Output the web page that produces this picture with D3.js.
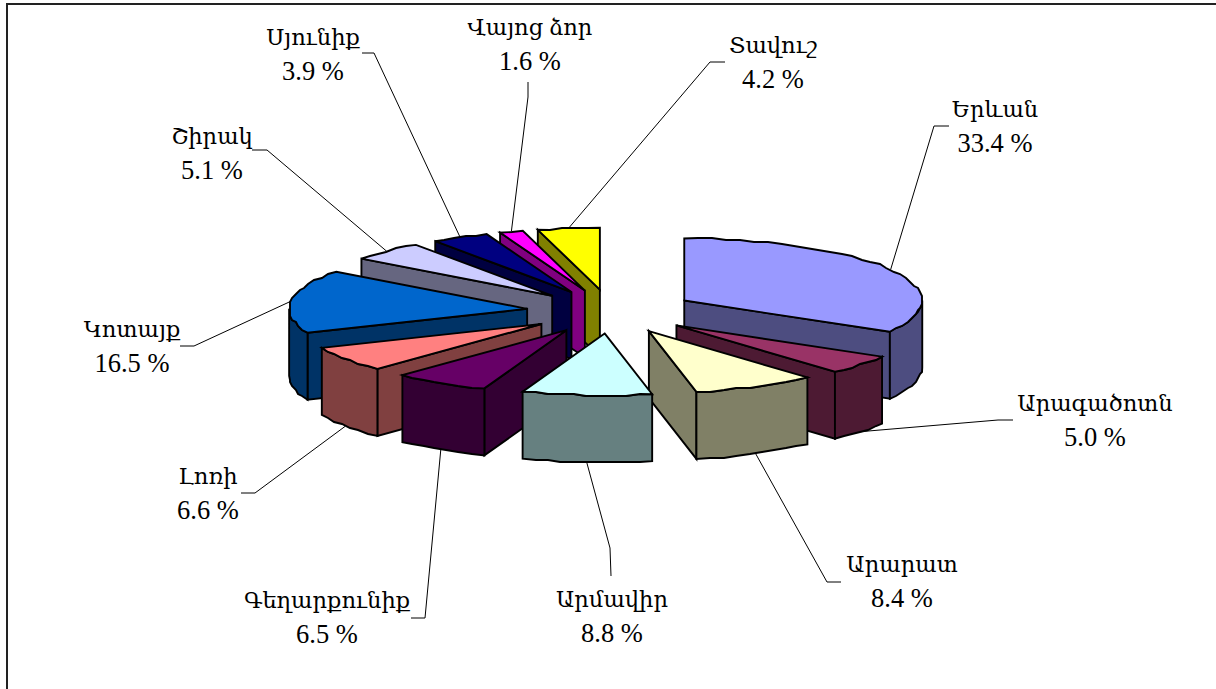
<!DOCTYPE html>
<html>
<head>
<meta charset="utf-8">
<script src="https://cdnjs.cloudflare.com/ajax/libs/d3/7.8.5/d3.min.js"></script>
<style>
  html, body { margin: 0; padding: 0; background: #fff; overflow: hidden; }
  svg { display: block; }
  text { font-family: "Liberation Serif", "DejaVu Serif", serif; fill: #000; text-anchor: middle; }
</style>
</head>
<body>
<svg class="pie" width="1216" height="689"></svg>
<script>
var regions = ["Երևան", "Արագածոտն", "Արարատ", "Արմավիր", "Գեղարքունիք", "Լոռի", "Կոտայք", "Շիրակ", "Սյունիք", "Վայոց ձոր", "Տավուշ"];
var shares = [33.4, 5.0, 8.4, 8.8, 6.5, 6.6, 16.5, 5.1, 3.9, 1.6, 4.2];
var topColors = ["#9999ff", "#993366", "#ffffcc", "#ccffff", "#660066", "#ff8080", "#0066cc", "#ccccff", "#000080", "#ff00ff", "#ffff00"];
var sideColors = ["#4d4d80", "#4d1a33", "#808066", "#668080", "#330033", "#804040", "#003366", "#666680", "#000040", "#800080", "#808000"];

// slices are painted back to front, indexes into the arrays above
var paintOrder = [0, 10, 9, 8, 7, 6, 5, 4, 1, 2, 3];

// hand placed labels like the original: text centre, first baseline, leader elbow and leader tail
var labelX = [995, 1095, 902, 612, 327, 208, 132, 212, 313, 530, 773];
var labelY = [117, 411, 572, 607, 608, 484, 337, 143.5, 45, 35, 53];
var elbowX = [934, 998, 827, 610, 425, 255, 194, 267, 374, 528, 710];
var elbowY = [126, 420, 582, 548, 618, 493, 346, 150, 53, 97, 62];
var tailX = [949, 1013, 841, 611, 411, 241, 180, 252, 362, 528, 725];
var tailY = [126, 420, 582, 576, 618, 493, 346, 150, 53, 82, 62];

var cx = 611, cy = 311.5, rx = 238, ry = 62, depth = 67, explode = 0.355;

var x = d3.scaleLinear().domain([-1, 1]).range([cx - rx, cx + rx]);
var y = d3.scaleLinear().domain([-1, 1]).range([cy - ry, cy + ry]);

var slices = d3.pie().sort(null).startAngle(0).endAngle(2 * Math.PI)(shares);

var line = d3.line();

var svg = d3.select(".pie");

// the frame is cut off on the right and at the bottom
svg.append("path")
    .attr("d", line([[7, 689], [7, 4], [1216, 4]]))
    .attr("fill", "none").attr("stroke", "#222").attr("stroke-width", 2);

// position on the ellipse of a slice, z pushes it down to the bottom rim
function rim(a, shift, k, z) {
  return [x(shift[0] + k * Math.sin(a)), y(shift[1] - k * Math.cos(a)) + (z || 0)];
}

// arcs are short polylines snapped to a grid, that gives the rough edge of the original
function arcPts(a0, a1, shift, z) {
  var pts = [], n = Math.max(2, Math.ceil((a1 - a0) / 0.06));
  for (var i = 0; i <= n; i++) {
    var p = rim(a0 + (a1 - a0) * i / n, shift, 1, z);
    if (i > 0 && i < n) p = [Math.round(p[0] / 2) * 2, Math.round(p[1] / 2) * 2];
    pts.push(p);
  }
  return pts;
}

function shiftOf(d) {
  var mid = (d.startAngle + d.endAngle) / 2;
  return [explode * Math.sin(mid), -explode * Math.cos(mid)];
}

var leaders = svg.append("g");
var pieces = svg.append("g");

paintOrder.forEach(function(i) {
  var d = slices[i], s = shiftOf(d), a0 = d.startAngle, a1 = d.endAngle;
  var g = pieces.append("g");
  var apex = rim(0, s, 0);

  function wall(pts) {
    g.append("path")
      .attr("d", line(pts) + "Z")
      .attr("fill", sideColors[i])
      .attr("stroke", "#000")
      .attr("stroke-width", 1.9)
      .attr("stroke-linejoin", "miter");
  }

  // only the walls that face the viewer
  if (Math.sin(a0) < 0) {
    var e0 = rim(a0, s, 1);
    wall([apex, e0, [e0[0], e0[1] + depth], [apex[0], apex[1] + depth]]);
  }
  if (Math.sin(a1) > 0) {
    var e1 = rim(a1, s, 1);
    wall([apex, e1, [e1[0], e1[1] + depth], [apex[0], apex[1] + depth]]);
  }
  var f0 = Math.max(a0, Math.PI / 2), f1 = Math.min(a1, 3 * Math.PI / 2);
  if (f1 > f0) {
    wall(arcPts(f0, f1, s, 0).concat(arcPts(f0, f1, s, depth).reverse()));
  }

  g.append("path")
    .attr("d", line([apex].concat(arcPts(a0, a1, s, 0))) + "Z")
    .attr("fill", topColors[i])
    .attr("stroke", "#000")
    .attr("stroke-width", 1.9)
    .attr("stroke-linejoin", "miter");
});

slices.forEach(function(d, i) {
  var mid = (d.startAngle + d.endAngle) / 2;
  var front = Math.cos(mid) < 0 && Math.sin(mid) > -0.95;
  var p = rim(mid, shiftOf(d), 1, front ? depth : 0);
  leaders.append("path")
    .attr("d", line([p, [elbowX[i], elbowY[i]], [tailX[i], tailY[i]]]))
    .attr("fill", "none")
    .attr("stroke", "#000")
    .attr("stroke-width", 1);

  var t = svg.append("text");
  t.append("tspan").attr("x", labelX[i]).attr("y", labelY[i]).attr("font-size", 22.6).text(regions[i]);
  t.append("tspan").attr("x", labelX[i]).attr("y", labelY[i] + 35).attr("font-size", 26.5).text(d3.format(".1f")(shares[i]) + " %");
});
</script>
</body>
</html>
